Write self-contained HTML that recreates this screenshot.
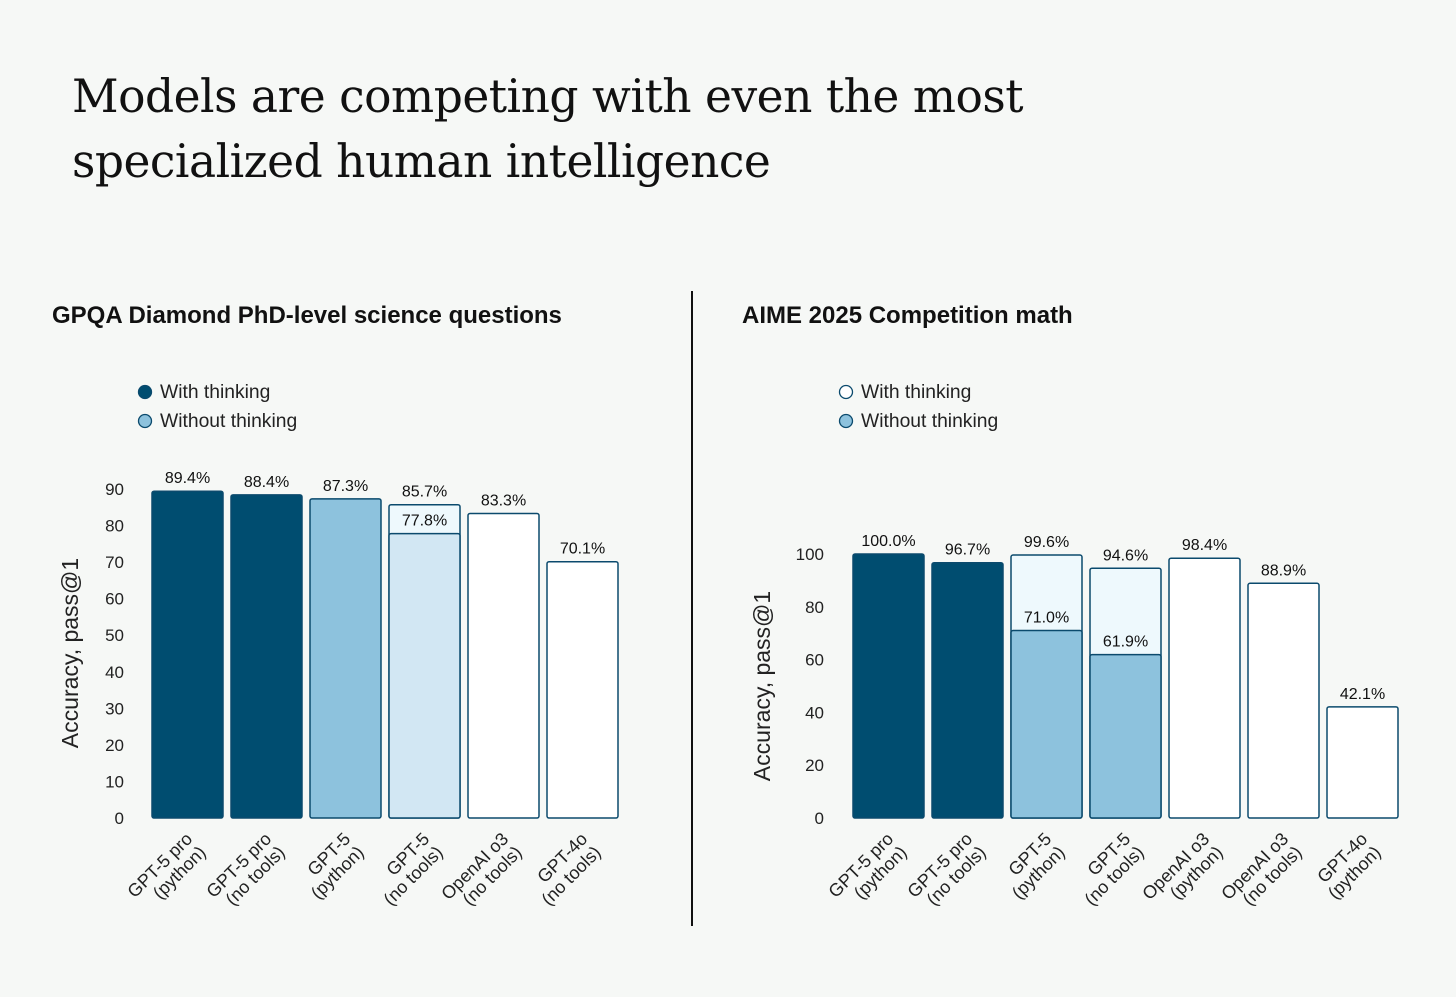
<!DOCTYPE html>
<html><head><meta charset="utf-8">
<style>
html,body{margin:0;padding:0;background:#f6f8f6;}
body{width:1456px;height:997px;overflow:hidden;position:relative;font-family:"Liberation Sans",sans-serif;}
h1{position:absolute;left:72px;top:64px;margin:0;font-family:"DejaVu Serif","Liberation Serif",serif;font-weight:normal;font-size:45.5px;line-height:65px;color:#111;letter-spacing:-0.5px;}
svg{position:absolute;left:0;top:0;}
</style></head>
<body>
<h1>Models are competing with even the most<br>specialized human intelligence</h1>
<svg id="s" width="1456" height="997"></svg>
<script>
const leftCats=[["GPT-5 pro","(python)"],["GPT-5 pro","(no tools)"],["GPT-5","(python)"],["GPT-5","(no tools)"],["OpenAI o3","(no tools)"],["GPT-4o","(no tools)"]];
const leftTotal=[89.4,88.4,87.3,85.7,83.3,70.1];
const leftInner=[null,null,null,77.8,null,null];
const leftFill=["#004d70","#004d70","#8dc2dd","#eef9fd","#ffffff","#ffffff"];
const leftInnerFill=[null,null,null,"#d2e7f3",null,null];
const leftTicks=[0,10,20,30,40,50,60,70,80,90];

const rightCats=[["GPT-5 pro","(python)"],["GPT-5 pro","(no tools)"],["GPT-5","(python)"],["GPT-5","(no tools)"],["OpenAI o3","(python)"],["OpenAI o3","(no tools)"],["GPT-4o","(python)"]];
const rightTotal=[100.0,96.7,99.6,94.6,98.4,88.9,42.1];
const rightInner=[null,null,71.0,61.9,null,null,null];
const rightFill=["#004d70","#004d70","#eef9fd","#eef9fd","#ffffff","#ffffff","#ffffff"];
const rightInnerFill=[null,null,"#8dc2dd","#8dc2dd",null,null,null];
const rightTicks=[0,20,40,60,80,100];

const NS="http://www.w3.org/2000/svg";
const svg=document.getElementById('s');
function mk(tag,attrs,parent){const e=document.createElementNS(NS,tag);for(const k in attrs)e.setAttribute(k,attrs[k]);(parent||svg).appendChild(e);return e;}
function txt(x,y,s,attrs){const e=mk('text',Object.assign({x:x,y:y,fill:'#111','font-family':'Liberation Sans, sans-serif'},attrs||{}));e.textContent=s;return e;}

function chart(o){
  const g=mk('g',{});
  
  
  const t=txt(o.titleX,323,o.title,{'font-size':24,'font-weight':'bold'});
  
  
  const lg=[["With thinking",o.legendColor1],["Without thinking","#8dc2dd"]];
  lg.forEach((l,i)=>{
    const c=mk('circle',{cx:o.legX,cy:392+i*29,r:6.5,fill:l[1],stroke:'#0b4a6d','stroke-width':1.3},g);
    
    
    const lt=txt(o.legX+15,398+i*29,l[0],{'font-size':19.3,fill:'#222'});
    
    
  });
  const y=v=>o.y0-(v/o.max)*(o.y0-o.yTop);
  const xb=i=>o.x0+i*79;
  o.ticks.forEach(v=>{
    const tt=txt(o.tickX,y(v)+6,String(v),{'font-size':17,'text-anchor':'end',fill:'#222'});
    
    
  });
  const yt=txt(0,0,'Accuracy, pass@1',{'font-size':23,'text-anchor':'middle',transform:`translate(${o.ytX},${o.ytY}) rotate(-90)`,fill:'#222'});
  
  
  o.total.forEach((v,i)=>{
    const r=mk('rect',{x:xb(i),y:y(v),width:71,height:o.y0-y(v),rx:2,fill:o.fill[i],stroke:'#0b4a6d','stroke-width':1.5},g);
    
    
    const vl=txt(xb(i)+35.5,y(v)-8,v.toFixed(1)+'%',{'font-size':16,'text-anchor':'middle'});
    
    
    if(o.inner[i]!=null){
      const iv=o.inner[i];
      const r2=mk('rect',{x:xb(i),y:y(iv),width:71,height:o.y0-y(iv),rx:2,fill:o.innerFill[i],stroke:'#0b4a6d','stroke-width':1.5},g);
      
      
      const il=txt(xb(i)+35.5,y(iv)-8,iv.toFixed(1)+'%',{'font-size':16,'text-anchor':'middle'});
      
      
    }
    const cx=xb(i)+35.5;
    const xl=mk('text',{x:0,y:0,'font-size':18,'text-anchor':'end',fill:'#222','font-family':'Liberation Sans, sans-serif',transform:`translate(${cx+6},${o.y0+22}) rotate(-45)`},g);
    
    
    o.cats[i].forEach((s,j)=>{const ts=mk('tspan',{x:0,dy:j?19:0},xl);ts.textContent=s;});
  });
}
chart({name:'gpqa-chart',title:'GPQA Diamond PhD-level science questions',titleX:52,legX:145,legendColor1:'#004d70',
  y0:818,yTop:489,max:90,x0:152,tickX:124,ytX:78,ytY:653,ticks:leftTicks,total:leftTotal,inner:leftInner,fill:leftFill,innerFill:leftInnerFill,cats:leftCats});
chart({name:'aime-chart',title:'AIME 2025 Competition math',titleX:742,legX:846,legendColor1:'#ffffff',
  y0:818,yTop:554,max:100,x0:853,tickX:824,ytX:770,ytY:686,ticks:rightTicks,total:rightTotal,inner:rightInner,fill:rightFill,innerFill:rightInnerFill,cats:rightCats});
const d=mk('line',{x1:692,y1:291,x2:692,y2:926,stroke:'#111','stroke-width':2});


</script>
</body></html>
